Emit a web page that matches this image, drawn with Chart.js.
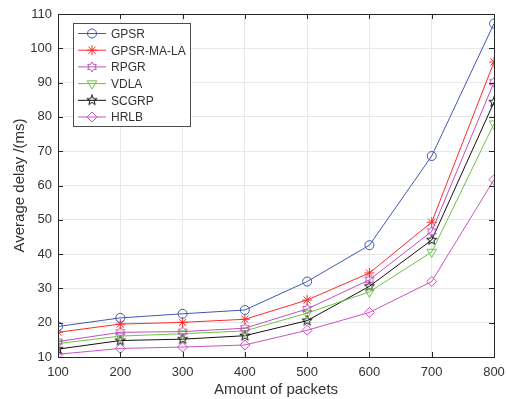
<!DOCTYPE html>
<html>
<head>
<meta charset="utf-8">
<script src="https://cdn.jsdelivr.net/npm/chart.js@4/dist/chart.umd.min.js"></script>
<style>
  html, body { margin: 0; padding: 0; background: #fff; }
  #wrap { width: 507px; height: 399px; }
</style>
</head>
<body>
<div id="wrap"><canvas id="delayChart" width="507" height="399"></canvas></div>
<script>
// ----------- DATA -----------
const packets = [100, 200, 300, 400, 500, 600, 700, 800];
const gpsr     = [18.9, 21.4, 22.6, 23.7, 32.0, 42.6, 68.6, 107.2];
const gpsrMaLa = [17.2, 19.6, 20.1, 21.0, 26.6, 34.5, 49.3, 96.0];
const rpgr     = [14.5, 17.2, 17.4, 18.4, 24.0, 32.5, 46.6, 90.1];
const vdla     = [13.9, 16.1, 16.8, 17.6, 22.8, 29.0, 40.6, 78.0];
const scgrp    = [12.3, 14.8, 15.2, 16.2, 20.6, 30.6, 44.1, 84.3];
const hrlb     = [10.8, 12.5, 12.9, 13.5, 17.8, 23.0, 32.0, 61.7];
const yTicks   = [10, 20, 30, 40, 50, 60, 70, 80, 90, 100, 110];

const FONT = "'Liberation Sans', Arial, sans-serif";
const TXT = "#333333";
const AXIS = "#262626";

// ----------- CUSTOM MARKERS -----------
function starCanvas(points, color, outer, inner) {
  const c = document.createElement("canvas");
  c.width = 12; c.height = 12;
  const g = c.getContext("2d");
  g.strokeStyle = color; g.lineWidth = 1;
  g.beginPath();
  for (let i = 0; i < points * 2; i++) {
    const r = i % 2 === 0 ? outer : inner;
    const a = -Math.PI / 2 + i * Math.PI / points;
    const px = 6 + r * Math.cos(a), py = 6 + r * Math.sin(a);
    if (i === 0) g.moveTo(px, py); else g.lineTo(px, py);
  }
  g.closePath();
  g.stroke();
  return c;
}
const hexagram = starCanvas(6, "#c04fbf", 5, 3);
const pentagram = starCanvas(5, "#111111", 5.4, 2.2);

function series(label, values, color, style, extra) {
  return Object.assign({
    label: label,
    data: packets.map((p, i) => ({ x: p, y: values[i] })),
    borderColor: color,
    backgroundColor: "rgba(0,0,0,0)",
    borderWidth: 1,
    pointStyle: style,
    pointRadius: 4.5,
    pointBorderColor: color,
    pointBackgroundColor: "rgba(0,0,0,0)",
    pointBorderWidth: 1,
    tension: 0,
    fill: false
  }, extra || {});
}

// ----------- PLUGINS -----------
const boxPlugin = {
  id: "box",
  afterDraw(chart) {
    const { ctx, chartArea: a, scales } = chart;
    ctx.save();
    ctx.strokeStyle = AXIS;
    ctx.lineWidth = 1;
    ctx.strokeRect(a.left + 0.5, a.top + 0.5, a.right - a.left, a.bottom - a.top);
    ctx.beginPath();
    packets.forEach(p => {
      const x = Math.round(scales.x.getPixelForValue(p)) + 0.5;
      ctx.moveTo(x, a.bottom); ctx.lineTo(x, a.bottom - 5);
      ctx.moveTo(x, a.top); ctx.lineTo(x, a.top + 5);
    });
    yTicks.forEach(v => {
      const y = Math.round(scales.y.getPixelForValue(v)) + 0.5;
      ctx.moveTo(a.left, y); ctx.lineTo(a.left + 5, y);
      ctx.moveTo(a.right, y); ctx.lineTo(a.right - 5, y);
    });
    ctx.stroke();

    // legend box
    const lx = 73, ly = 23, lw = 117, lh = 103, step = 16.7;
    ctx.fillStyle = "#fff";
    ctx.fillRect(lx, ly, lw, lh);
    ctx.strokeStyle = "#4d4d4d";
    ctx.strokeRect(lx + 0.5, ly + 0.5, lw, lh);
    ctx.font = "12px " + FONT;
    ctx.textBaseline = "middle";
    chart.data.datasets.forEach((ds, i) => {
      const y = ly + 10.5 + i * step;
      ctx.strokeStyle = ds.borderColor;
      ctx.lineWidth = 1;
      ctx.beginPath();
      ctx.moveTo(lx + 5, y); ctx.lineTo(lx + 33, y);
      ctx.stroke();
      ctx.strokeStyle = ds.pointBorderColor;
      ctx.fillStyle = "rgba(0,0,0,0)";
      Chart.helpers.drawPoint(ctx, {
        pointStyle: ds.pointStyle, radius: ds.pointRadius,
        rotation: ds.pointRotation || 0, borderWidth: 1
      }, lx + 19, y);
      ctx.fillStyle = TXT;
      ctx.fillText(ds.label, lx + 38, y + 1);
    });
    ctx.restore();
  }
};

// ----------- DELAY LINE CHART -----------
const delayCtx = document.getElementById("delayChart").getContext("2d");
new Chart(delayCtx, {
  type: "line",
  data: {
    datasets: [
      series("GPSR", gpsr, "#4357b0", "circle"),
      series("GPSR-MA-LA", gpsrMaLa, "#ff2a2a", "star", { pointRadius: 5 }),
      series("RPGR", rpgr, "#c04fbf", hexagram),
      series("VDLA", vdla, "#6cc443", "triangle", { pointRotation: 180, pointRadius: 5.5 }),
      series("SCGRP", scgrp, "#111111", pentagram),
      series("HRLB", hrlb, "#c855c0", "rectRot", { pointRadius: 5 })
    ]
  },
  options: {
    responsive: false,
    animation: false,
    layout: { padding: { top: 14, right: 13, left: 0, bottom: 0 } },
    plugins: { legend: { display: false }, tooltip: { enabled: false } },
    scales: {
      x: {
        type: "linear",
        min: 100, max: 800,
        afterFit(s) { s.height = 42; s.paddingRight = 0; s.paddingLeft = 0; },
        ticks: { stepSize: 100, color: TXT, font: { family: FONT, size: 13 }, padding: 8, maxRotation: 0 },
        grid: { color: "#e8e8e8", drawTicks: false },
        border: { color: AXIS },
        title: { display: true, text: "Amount of packets", color: TXT, font: { family: FONT, size: 15 }, padding: { top: 0, bottom: 0 } }
      },
      y: {
        min: 10, max: 110,
        afterFit(s) { s.width = 58; s.paddingTop = 0; s.paddingBottom = 0; },
        ticks: { stepSize: 10, color: TXT, font: { family: FONT, size: 13 }, padding: 6 },
        grid: { color: "#e8e8e8", drawTicks: false },
        border: { color: AXIS },
        title: { display: true, text: "Average delay /(ms)", color: TXT, font: { family: FONT, size: 15 }, padding: { top: 11, bottom: 0 } }
      }
    }
  },
  plugins: [boxPlugin]
});
</script>
</body>
</html>
